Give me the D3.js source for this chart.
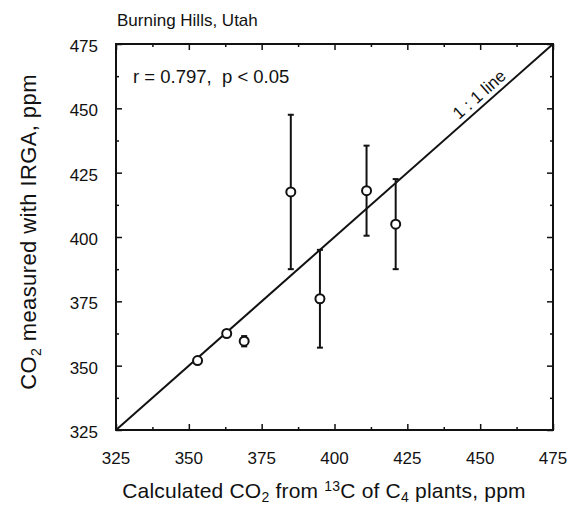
<!DOCTYPE html>
<meta charset="utf-8">
<body style="margin:0;background:#fff">
<script src="https://d3js.org/d3.v7.min.js"></script>
<script>
var width = 573,
    height = 508,
    margin = {top: 44, right: 20, bottom: 78, left: 116};

// values
var calculated = [353, 363, 369, 385, 395, 411, 421];
var measured   = [352, 362.5, 359.5, 417.5, 376, 418, 405];
var errors     = [0, 0, 2, 30, 19, 17.5, 17.5];
var majorTicks = [325, 350, 375, 400, 425, 450, 475];
var minorTicks = [337.5, 362.5, 387.5, 412.5, 437.5, 462.5];

var svg = d3.select("body").append("svg")
    .attr("width", width)
    .attr("height", height)
    .style("font-family", "Arial, 'Liberation Sans', Helvetica, sans-serif");

var x = d3.scaleLinear().domain([325, 475]).range([margin.left, width - margin.right]);
var y = d3.scaleLinear().domain([325, 475]).range([height - margin.bottom, margin.top]);

var ink = "#111";

// ticks on all four sides, pointing inward
function ticks(axis, size, vals) {
  return axis.tickValues(vals).tickSize(-size).tickFormat("");
}
var x0 = margin.left, x1 = width - margin.right, y0 = height - margin.bottom, y1 = margin.top;

svg.append("g").attr("transform", "translate(0," + y0 + ")").call(ticks(d3.axisBottom(x), 6, majorTicks));
svg.append("g").attr("transform", "translate(0," + y0 + ")").call(ticks(d3.axisBottom(x), 3, minorTicks));
svg.append("g").attr("transform", "translate(0," + y1 + ")").call(ticks(d3.axisTop(x), 6, majorTicks));
svg.append("g").attr("transform", "translate(0," + y1 + ")").call(ticks(d3.axisTop(x), 3, minorTicks));
svg.append("g").attr("transform", "translate(" + x0 + ",0)").call(ticks(d3.axisLeft(y), 6, majorTicks));
svg.append("g").attr("transform", "translate(" + x0 + ",0)").call(ticks(d3.axisLeft(y), 3, minorTicks));
svg.append("g").attr("transform", "translate(" + x1 + ",0)").call(ticks(d3.axisRight(y), 6, majorTicks));
svg.append("g").attr("transform", "translate(" + x1 + ",0)").call(ticks(d3.axisRight(y), 3, minorTicks));
svg.selectAll(".domain").remove();
svg.selectAll(".tick line").attr("stroke", ink).attr("stroke-width", 1.5);

svg.append("rect")
    .attr("x", x0).attr("y", y1)
    .attr("width", x1 - x0).attr("height", y0 - y1)
    .attr("fill", "none").attr("stroke", ink).attr("stroke-width", 2);

// tick labels
svg.append("g").selectAll("text").data(majorTicks).join("text")
    .attr("x", d => x(d)).attr("y", y0 + 34)
    .attr("text-anchor", "middle").attr("font-size", 17).attr("fill", ink)
    .text(d => d);
svg.append("g").selectAll("text").data(majorTicks).join("text")
    .attr("x", x0 - 18).attr("y", d => y(d) + 8)
    .attr("text-anchor", "end").attr("font-size", 17).attr("fill", ink)
    .text(d => d);

// 1:1 line
svg.append("line")
    .attr("x1", x(325)).attr("y1", y(325))
    .attr("x2", x(475)).attr("y2", y(475))
    .attr("stroke", ink).attr("stroke-width", 2);

var angle = Math.atan2(y(475) - y(325), x(475) - x(325)) * 180 / Math.PI;
svg.append("text")
    .attr("transform", "translate(" + x(451) + "," + (y(451) - 7) + ") rotate(" + angle + ")")
    .attr("text-anchor", "middle").attr("font-size", 17).attr("fill", ink)
    .attr("xml:space", "preserve")
    .text("1 : 1 line");

// error bars
var pts = calculated.map((c, i) => ({c: c, m: measured[i], e: errors[i]}));
var bars = svg.append("g").attr("stroke", ink).attr("stroke-width", 2);
pts.filter(d => d.e > 0).forEach(function(d) {
  bars.append("line").attr("x1", x(d.c)).attr("x2", x(d.c)).attr("y1", y(d.m - d.e)).attr("y2", y(d.m + d.e));
  [d.m - d.e, d.m + d.e].forEach(function(v) {
    bars.append("line").attr("x1", x(d.c) - 3).attr("x2", x(d.c) + 3).attr("y1", y(v)).attr("y2", y(v));
  });
});

svg.append("g").selectAll("circle").data(pts).join("circle")
    .attr("cx", d => x(d.c)).attr("cy", d => y(d.m)).attr("r", 4.5)
    .attr("fill", "#fff").attr("stroke", ink).attr("stroke-width", 2);

// texts
svg.append("text").attr("x", x0 + 1).attr("y", 26)
    .attr("font-size", 17).attr("fill", ink).text("Burning Hills, Utah");
svg.append("text").attr("x", 133).attr("y", 83)
    .attr("font-size", 18.5).attr("fill", ink).attr("xml:space", "preserve")
    .text("r = 0.797,  p < 0.05");

var xt = svg.append("text").attr("x", 324).attr("y", 498)
    .attr("text-anchor", "middle").attr("font-size", 21).attr("letter-spacing", 0.2).attr("fill", ink);
xt.append("tspan").text("Calculated CO");
xt.append("tspan").attr("font-size", 14).attr("dy", 4).text("2");
xt.append("tspan").attr("dy", -4).text(" from ");
xt.append("tspan").attr("font-size", 14).attr("dy", -7).text("13");
xt.append("tspan").attr("dy", 7).text("C of C");
xt.append("tspan").attr("font-size", 14).attr("dy", 4).text("4");
xt.append("tspan").attr("dy", -4).text(" plants, ppm");

var yt = svg.append("text")
    .attr("transform", "translate(36,232) rotate(-90)")
    .attr("text-anchor", "middle").attr("font-size", 22).attr("letter-spacing", 0.4).attr("fill", ink);
yt.append("tspan").text("CO");
yt.append("tspan").attr("font-size", 14).attr("dy", 5).text("2");
yt.append("tspan").attr("dy", -5).text(" measured with IRGA, ppm");
</script>
</body>
